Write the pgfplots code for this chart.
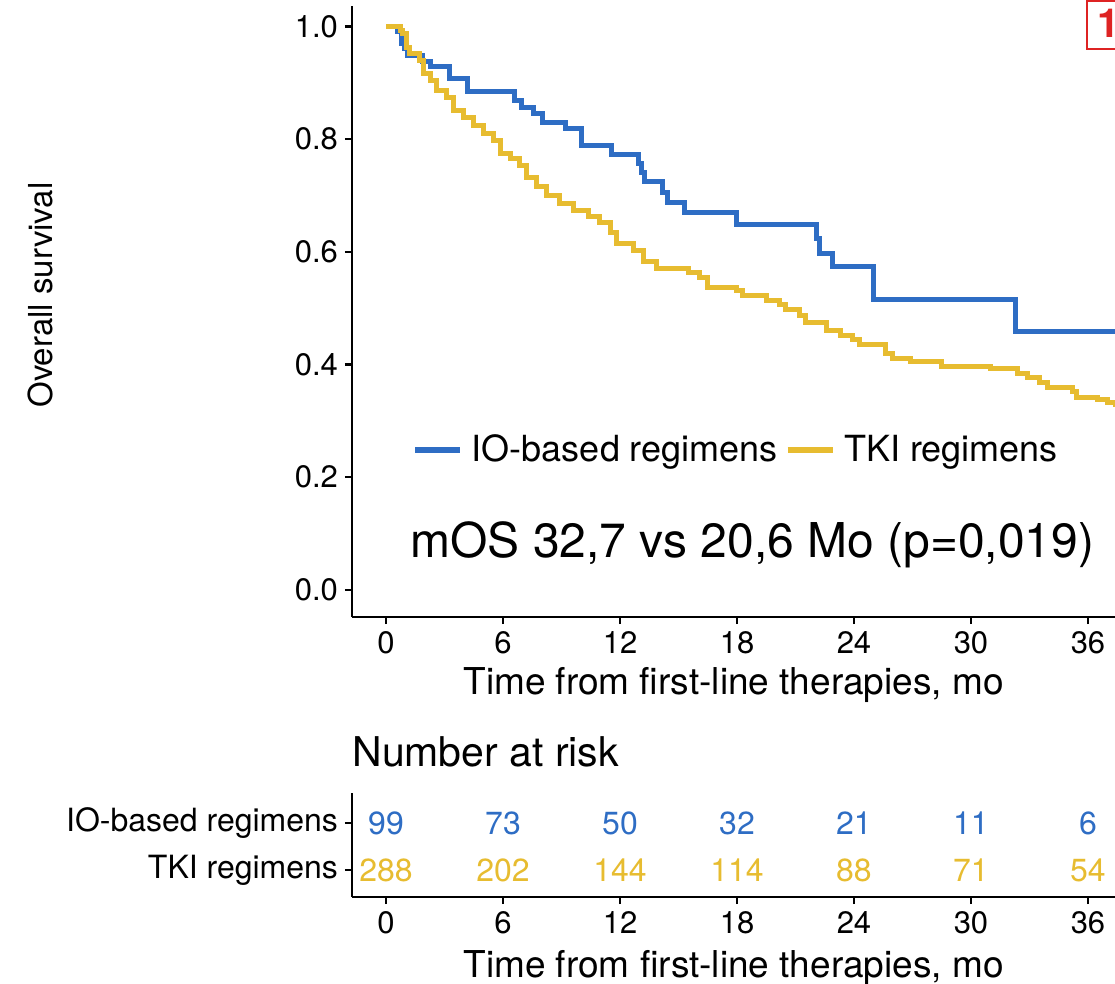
\documentclass[border=0pt]{standalone}
\usepackage{pgfplots}
\pgfplotsset{compat=1.18}
\usepackage{fontspec}
\setmainfont{TeX Gyre Heros}
\definecolor{ioblue}{RGB}{46,109,196}
\definecolor{tkiyellow}{RGB}{231,188,48}
\definecolor{boxred}{RGB}{222,35,35}
\newcommand{\fsz}[1]{\fontsize{#1}{#1}\selectfont}

\begin{document}
\begin{tikzpicture}
\path[use as bounding box] (0pt,0pt) rectangle (557.5pt,-492pt);
\pgfplotsset{
  km/.style={
    scale only axis, width=381.5pt,
    axis lines*=left,
    axis line style={line width=1.25pt, black},
    tick style={line width=1.25pt, black},
    tick align=outside,
    major tick length=3.5pt,
    xmin=-1.744, xmax=37.385,
    xtick={0,6,12,18,24,30,36},
    /pgf/number format/assume math mode=true,
    tick label style={font=\fsz{15.5}},
    label style={font=\fsz{18.5}},
  }
}
\begin{axis}[km, at={(176pt,-308.5pt)}, anchor=south west, height=305.5pt,
  ymin=-0.048, ymax=1.036, ytick={0,0.2,0.4,0.6,0.8,1},
  yticklabel style={/pgf/number format/.cd, fixed, fixed zerofill, precision=1},
  xlabel={Time from first-line therapies, mo},
  xlabel style={at={(axis description cs:0.5,-0.1113)}, anchor=center},
  ylabel={Overall survival},
  ylabel style={at={(axis description cs:-0.4089,0.527)}, anchor=center, font=\fsz{16.5}},
  legend style={at={(0.0787,0.2733)}, anchor=west, draw=none, fill=none,
    font=\fsz{18}, inner sep=0pt, legend cell align=left,
    /tikz/every even column/.append style={column sep=1.5pt}},
  legend columns=2,
  legend image code/.code={\draw[#1, line width=3pt] (0pt,0pt) -- (22.5pt,0pt); \path (25pt,0pt);},
]
\addplot[const plot, ioblue, line width=2.5pt] coordinates {
(0,1.0) (0.6,0.99) (0.8,0.97) (0.95,0.96) (1.1,0.949) (1.85,0.938) (2.26,0.928)
(3.28,0.907) (4.2,0.885) (6.6,0.869) (6.96,0.856) (7.55,0.845) (8.05,0.830)
(9.18,0.819) (10.03,0.789) (11.57,0.773) (12.94,0.757) (13.1,0.741) (13.28,0.724)
(14.2,0.706) (14.46,0.688) (15.33,0.669) (17.98,0.648) (22.09,0.623) (22.25,0.597)
(22.9,0.573) (25.0,0.516) (32.3,0.459) (37.385,0.459)};
\addlegendentry{IO-based regimens}
\addplot[const plot, tkiyellow, line width=2.5pt] coordinates {
(0,1.0) (0.72,0.993) (0.87,0.987) (1.06,0.963) (1.23,0.951) (1.74,0.94) (1.91,0.916)
(2.26,0.904) (2.6,0.886) (3.11,0.874) (3.45,0.851) (3.97,0.839) (4.48,0.824)
(4.99,0.809) (5.5,0.797) (5.85,0.774) (6.36,0.765) (6.87,0.753) (7.22,0.732)
(7.73,0.715) (8.24,0.700) (8.92,0.685) (9.61,0.673) (10.4,0.662) (10.97,0.652)
(11.49,0.635) (11.83,0.614) (12.68,0.603) (13.2,0.583) (13.88,0.570) (15.5,0.564)
(16.1,0.555) (16.5,0.537) (17.98,0.531) (18.3,0.522) (19.5,0.513) (20.2,0.507)
(20.5,0.498) (21.2,0.487) (21.5,0.475) (22.6,0.460) (23.3,0.452) (23.9,0.445)
(24.3,0.436) (25.6,0.419) (26.0,0.410) (26.9,0.405) (28.5,0.397) (31.0,0.392)
(32.4,0.384) (32.9,0.377) (33.5,0.368) (33.9,0.360) (35.2,0.352) (35.4,0.342)
(36.5,0.338) (37.0,0.332) (37.385,0.325)};
\addlegendentry{TKI regimens}
\end{axis}

\begin{axis}[km, at={(176pt,-448.5pt)}, anchor=south west, height=52pt,
  ymin=0.43, ymax=2.64, ytick={1,2},
  yticklabels={TKI regimens, IO-based regimens},
  yticklabel style={font=\fsz{16}},
  xlabel={Time from first-line therapies, mo},
  xlabel style={at={(axis description cs:0.5,-0.683)}, anchor=center},
]
\addplot[only marks, mark=none, nodes near coords, nodes near coords align=center,
  point meta=explicit symbolic,
  every node near coord/.append style={text=ioblue, font=\fsz{16}}]
  coordinates {(0,2)[99] (6,2)[73] (12,2)[50] (18,2)[32] (24,2)[21] (30,2)[11] (36,2)[6]};
\addplot[only marks, mark=none, nodes near coords, nodes near coords align=center,
  point meta=explicit symbolic,
  every node near coord/.append style={text=tkiyellow, font=\fsz{16}}]
  coordinates {(0,1)[288] (6,1)[202] (12,1)[144] (18,1)[114] (24,1)[88] (30,1)[71] (36,1)[54]};
\end{axis}

\node[anchor=west, inner sep=0pt, font=\fsz{20.5}] at (176pt,-376pt) {Number at risk};
\node[anchor=west, inner sep=0pt, font=\fsz{24}] at (205pt,-272.5pt) {mOS 32,7 vs 20,6 Mo (p=0,019)};
\draw[boxred, line width=0.7pt] (557.5pt,-0.5pt) -- (543.5pt,-0.5pt) -- (543.5pt,-24.5pt) -- (557.5pt,-24.5pt);
\node[anchor=west, inner sep=0pt, text=boxred, font=\bfseries\fsz{20}] at (548.5pt,-11.5pt) {1};
\end{tikzpicture}
\end{document}
